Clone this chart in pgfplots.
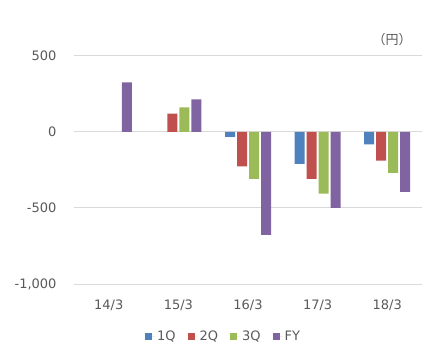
\documentclass[border=0pt]{standalone}
\usepackage{pgfplots}
\pgfplotsset{compat=1.18}
\usepackage{fontspec}
\setmainfont{DejaVu Sans}
\newfontfamily\cjk{Noto Sans CJK JP}
\definecolor{c1}{HTML}{4F81BD}
\definecolor{c2}{HTML}{C0504D}
\definecolor{c3}{HTML}{9BBB59}
\definecolor{c4}{HTML}{8064A2}
\definecolor{txt}{HTML}{595959}
\definecolor{grd}{HTML}{D9D9D9}
\begin{document}
\begin{tikzpicture}[x=1pt,y=1pt]
\path[use as bounding box] (0,0) rectangle (437,361);
\begin{axis}[
  at={(74pt,77pt)}, anchor=south west,
  scale only axis, width=348pt, height=228.3pt,
  ybar=2pt, bar width=10pt,
  xmin=-0.5, xmax=4.5, ymin=-1000, ymax=500,
  xtick={0,1,2,3,4}, xticklabels={14/3,15/3,16/3,17/3,18/3},
  ytick={-1000,-500,0,500},
  yticklabels={{-1,000},{-500},{0},{500}},
  ymajorgrids, major grid style={grd, line width=0.8pt},
  axis line style={draw=none},
  major tick length=0pt,
  tick label style={font=\fontsize{13}{15}\selectfont, text=txt},
  yticklabel style={xshift=-14pt},
  xticklabel style={yshift=-12pt},
  legend style={at={(0.43,-0.23)}, anchor=center, draw=none, fill=none,
    font=\fontsize{13}{15}\selectfont, text=txt, legend columns=4,
    /tikz/every even column/.append style={column sep=10pt}},
  legend image code/.code={\fill[#1] (0pt,-3.5pt) rectangle (7pt,3.5pt); \path (0pt,0pt) -- (10pt,0pt);},
  clip=false,
]
\addplot[fill=c1, draw=none] coordinates {(2,-33) (3,-210) (4,-83)};
\addplot[fill=c2, draw=none] coordinates {(1,120) (2,-228) (3,-309) (4,-189)};
\addplot[fill=c3, draw=none] coordinates {(1,160) (2,-309) (3,-406) (4,-270)};
\addplot[fill=c4, draw=none] coordinates {(0,324) (1,213) (2,-678) (3,-500) (4,-395)};
\legend{1Q,2Q,3Q,FY}
\end{axis}
\node[text=txt, font=\fontsize{13}{15}\selectfont\cjk] at (392,321) {（円）};
\end{tikzpicture}
\end{document}
